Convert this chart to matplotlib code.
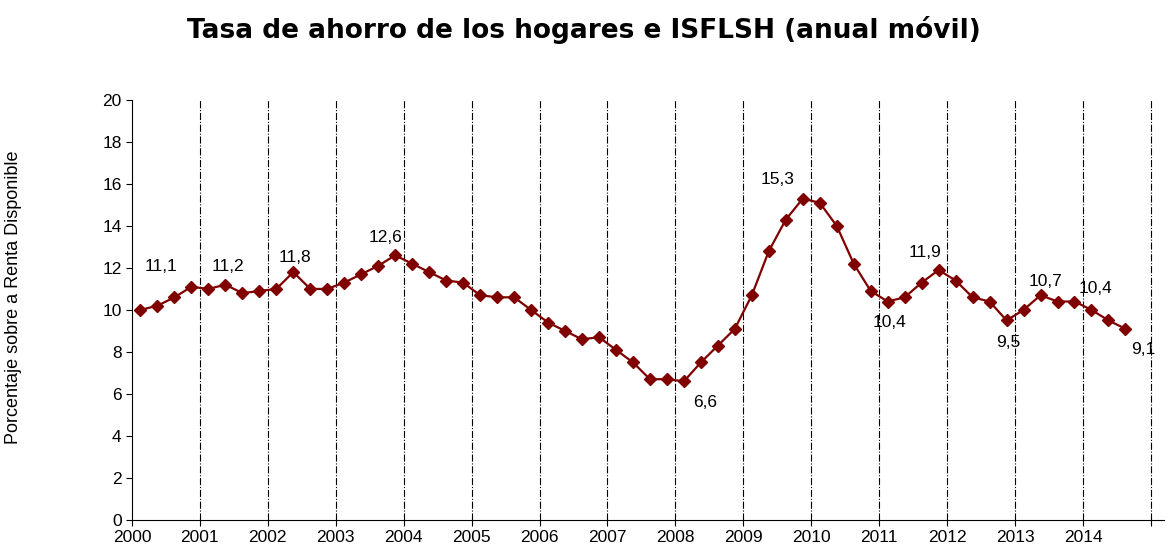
import numpy as np
import matplotlib
matplotlib.use("Agg")
import matplotlib.pyplot as plt

plt.rcParams['font.family'] = ['Liberation Sans', 'DejaVu Sans']

# datos trimestrales 2000T1 - 2014T3
years = list(range(2000, 2016))
tasa = [10.0, 10.2, 10.6, 11.1,
        11.0, 11.2, 10.8, 10.9,
        11.0, 11.8, 11.0, 11.0,
        11.3, 11.7, 12.1, 12.6,
        12.2, 11.8, 11.4, 11.3,
        10.7, 10.6, 10.6, 10.0,
        9.4, 9.0, 8.6, 8.7,
        8.1, 7.5, 6.7, 6.7,
        6.6, 7.5, 8.3, 9.1,
        10.7, 12.8, 14.3, 15.3,
        15.1, 14.0, 12.2, 10.9,
        10.4, 10.6, 11.3, 11.9,
        11.4, 10.6, 10.4, 9.5,
        10.0, 10.7, 10.4, 10.4,
        10.0, 9.5, 9.1]

# indice del trimestre etiquetado y desplazamiento de la etiqueta (px)
etiq_idx = [3, 5, 9, 15, 32, 39, 44, 47, 51, 53, 55, 58]
etiq_off = [(-30, 20), (3, 18), (2, 15), (-10, 18), (21, -21), (-25, 19),
            (2, -21), (-14, 18), (2, -22), (5, 14), (21, 13), (18, -21)]

x = years[0] + (np.arange(len(tasa)) + 0.5) / 4

fig = plt.figure(figsize=(11.68, 5.49), dpi=100)
ax = fig.add_axes([0.113, 0.053, 0.884, 0.765])

ax.plot(x, tasa, color='#800000', lw=1.6, marker='D', ms=6,
        markerfacecolor='#800000', markeredgecolor='#800000', zorder=3)

for i, (dx, dy) in zip(etiq_idx, etiq_off):
    ax.annotate(f"{tasa[i]:.1f}".replace('.', ','), (x[i], tasa[i]),
                xytext=(dx, dy), textcoords='offset pixels',
                ha='center', va='center', fontsize=12.5)

for yr in years[1:]:
    ax.axvline(yr, color='black', lw=0.8, ls='-.', zorder=1)

ax.set_xlim(2000, 2015.2)
ax.set_ylim(0, 20)
ax.set_yticks(range(0, 21, 2))
ax.set_xticks(years)
ax.set_xticklabels([str(y) for y in years[:-1]] + [''])
ax.tick_params(axis='both', labelsize=12.5, direction='out', length=4)
ax.spines['top'].set_visible(False)
ax.spines['right'].set_visible(False)

ax.set_ylabel('Porcentaje sobre a Renta Disponible', fontsize=13)
ax.yaxis.set_label_coords(-0.107, 0.53)
fig.text(0.5, 0.945, 'Tasa de ahorro de los hogares e ISFLSH (anual móvil)',
         ha='center', va='center', fontsize=19, fontweight='bold',
         family='DejaVu Sans')

fig.savefig('out.png', dpi=100)
